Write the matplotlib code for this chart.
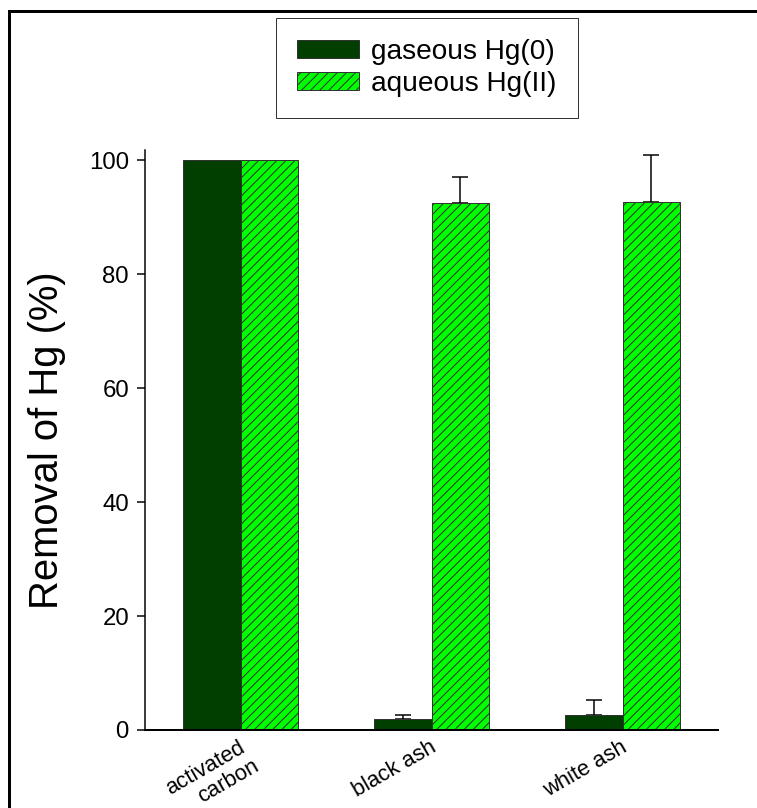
import matplotlib
matplotlib.use("Agg")
import matplotlib.pyplot as plt
import matplotlib.transforms as mtransforms
from matplotlib.patches import Rectangle
import numpy as np

# Mercury removal by sorbent
sorbents = ["activated\ncarbon", "black ash", "white ash"]
gaseous = [100.0, 2.0, 2.6]
gaseous_err = [0.0, 0.7, 2.6]
aqueous = [100.0, 92.5, 92.6]
aqueous_err = [0.0, 4.5, 8.4]

COLOR_GAS = '#003F00'
COLOR_AQ = '#00FF00'

W, H = 757, 808
DPI = 82


def px(v):
    """ Convert pixels to points. """
    return v * 72.0 / DPI


def up_errorbars(ax, xpos, vals, errs):
    """ Upward-only error bars, drawn under the bars so only the top cap shows. """
    xpos, vals, errs = np.asarray(xpos), np.asarray(vals), np.asarray(errs)
    m = errs > 0
    ax.errorbar(xpos[m], vals[m], yerr=[np.zeros(m.sum()), errs[m]], fmt='none',
                ecolor='black', elinewidth=px(1.5), capsize=px(8),
                capthick=px(1.5), zorder=1, clip_on=False)


plt.rcParams['font.family'] = ['Liberation Sans', 'DejaVu Sans']
plt.rcParams['hatch.linewidth'] = 0.9
plt.rcParams['hatch.color'] = 'black'

fig = plt.figure(figsize=(W / DPI, H / DPI), dpi=DPI)
ax = fig.add_axes([145 / W, (H - 730) / H, (718 - 145) / W, (730 - 150) / H])

x = np.arange(len(sorbents))
width = 0.3

ax.bar(x - width / 2, gaseous, width, color=COLOR_GAS, edgecolor='#333333',
       linewidth=px(1), label='gaseous Hg(0)', zorder=2)
ax.bar(x + width / 2, aqueous, width, color=COLOR_AQ, edgecolor='#333333',
       linewidth=px(1), hatch='///', label='aqueous Hg(II)', zorder=2)

up_errorbars(ax, x - width / 2, gaseous, gaseous_err)
up_errorbars(ax, x + width / 2, aqueous, aqueous_err)

ax.set_xlim(-0.5, 2.5)
ax.set_ylim(0, 101.8)
ax.set_yticks([0, 20, 40, 60, 80, 100])

ax.spines['top'].set_visible(False)
ax.spines['right'].set_visible(False)
ax.spines['left'].set_linewidth(px(1.5))
ax.spines['bottom'].set_linewidth(px(2))
ax.spines['bottom'].set_zorder(4)

ax.tick_params(axis='y', direction='out', length=px(8), width=px(1.5),
               labelsize=px(24), pad=px(8))
ax.tick_params(axis='x', length=0, pad=px(7))

# first line of each name goes on the tick, a second line is set below it
first_lines = [s.split('\n')[0] for s in sorbents]
ax.set_xticks(x)
ax.set_xticklabels(first_lines, rotation=30, rotation_mode='anchor',
                   ha='right', va='top', fontsize=px(22))
shift = mtransforms.ScaledTranslation(-2 / DPI, 0, fig.dpi_scale_trans)
for lbl in ax.get_xticklabels():
    lbl.set_transform(lbl.get_transform() + shift)

for xi, name in zip(x, sorbents):
    parts = name.split('\n')
    if len(parts) > 1:
        ax.annotate(parts[1], xy=(xi, 0), xycoords=('data', 'axes fraction'),
                    xytext=(12, -26), textcoords='offset pixels',
                    rotation=30, rotation_mode='anchor', ha='right', va='top',
                    fontsize=px(22), annotation_clip=False)

ax.set_ylabel('Removal of Hg (%)', fontsize=px(40))
ax.yaxis.set_label_coords((66 - 145) / (718 - 145), 0.5)

leg = fig.legend(loc='upper left', bbox_to_anchor=(276 / W, 1 - 18 / H),
                 fontsize=px(28), frameon=True, fancybox=False, shadow=False,
                 handlelength=2.2, handleheight=0.62, handletextpad=0.45,
                 labelspacing=0.2, borderpad=0.75, borderaxespad=0)
leg.get_frame().set_edgecolor('black')
leg.get_frame().set_linewidth(px(1))

# outer frame, running off the right and bottom edges
fig.patches.append(Rectangle((9 / W, -0.1), 1.1, 1 - 11 / H + 0.1,
                             transform=fig.transFigure, fill=False,
                             edgecolor='black', linewidth=px(3)))

fig.savefig('out.png', dpi=DPI)
plt.close(fig)
